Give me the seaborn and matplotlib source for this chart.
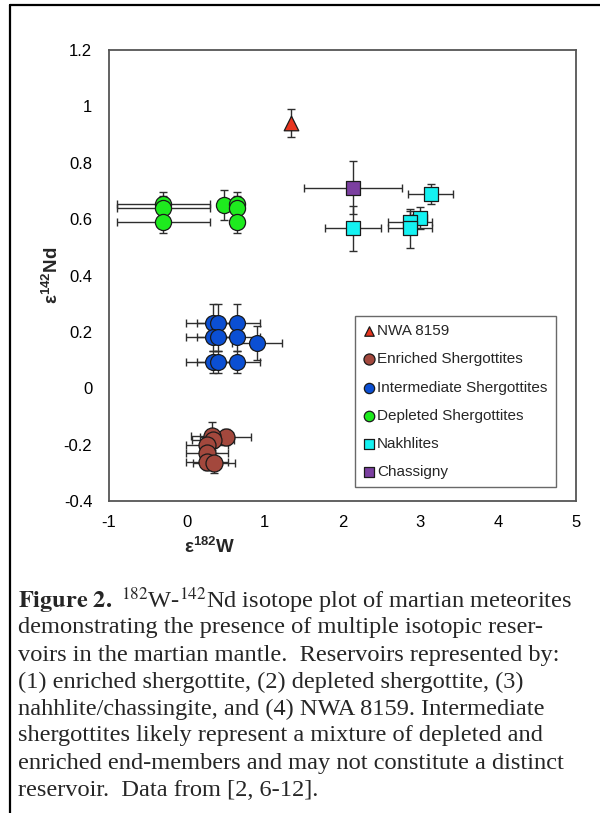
import matplotlib
matplotlib.use("Agg")
import matplotlib.pyplot as plt
import seaborn as sns
import pandas as pd
from matplotlib.lines import Line2D

# ---------------- data ----------------
groups = ["NWA 8159", "Enriched Shergottites", "Intermediate Shergottites",
          "Depleted Shergottites", "Nakhlites", "Chassigny"]

nwa_x = [1.34]
nwa_y = [0.94]
nwa_xerr = [0.0]
nwa_yerr = [0.05]

enr_x = [0.50, 0.32, 0.34, 0.26, 0.26, 0.26, 0.35]
enr_y = [-0.173, -0.170, -0.182, -0.200, -0.230, -0.261, -0.265]
enr_xerr = [0.33, 0.27, 0.27, 0.27, 0.27, 0.27, 0.27]
enr_yerr = [0.03, 0.05, 0.03, 0.03, 0.03, 0.03, 0.035]

int_x = [0.34, 0.405, 0.649, 0.34, 0.405, 0.649, 0.34, 0.405, 0.649, 0.906]
int_y = [0.233, 0.233, 0.233, 0.182, 0.182, 0.182, 0.093, 0.093, 0.093, 0.161]
int_xerr = [0.35, 0.28, 0.29, 0.35, 0.28, 0.29, 0.35, 0.28, 0.29, 0.32]
int_yerr = [0.065, 0.065, 0.065, 0.05, 0.05, 0.05, 0.04, 0.04, 0.04, 0.06]

dep_x = [-0.30, -0.30, -0.30, 0.48, 0.65, 0.65, 0.65]
dep_y = [0.655, 0.641, 0.590, 0.649, 0.655, 0.641, 0.590]
dep_xerr = [0.60, 0.60, 0.60, 0.08, 0.08, 0.08, 0.08]
dep_yerr = [0.04, 0.04, 0.04, 0.053, 0.04, 0.04, 0.04]

nak_x = [2.14, 3.135, 2.99, 2.87, 2.87]
nak_y = [0.567, 0.690, 0.604, 0.590, 0.567]
nak_xerr = [0.36, 0.29, 0.10, 0.28, 0.28]
nak_yerr = [0.08, 0.035, 0.04, 0.04, 0.07]

cha_x = [2.14]
cha_y = [0.712]
cha_xerr = [0.63]
cha_yerr = [0.094]

x_ticks = [-1, 0, 1, 2, 3, 4, 5]
y_ticks = [-0.4, -0.2, 0, 0.2, 0.4, 0.6, 0.8, 1, 1.2]

caption_lines = [
    r"$\mathbf{Figure\ 2.}$ $^{182}$W-$^{142}$Nd isotope plot of martian meteorites",
    "demonstrating the presence of multiple isotopic reser-",
    "voirs in the martian mantle.  Reservoirs represented by:",
    "(1) enriched shergottite, (2) depleted shergottite, (3)",
    "nahhlite/chassingite, and (4) NWA 8159. Intermediate",
    "shergottites likely represent a mixture of depleted and",
    "enriched end-members and may not constitute a distinct",
    "reservoir.  Data from [2, 6-12].",
]

# ---------------- style ----------------
sns.set_style("white")
plt.rcParams["font.family"] = ["Liberation Sans", "DejaVu Sans"]
plt.rcParams["axes.unicode_minus"] = False
plt.rcParams["mathtext.fontset"] = "custom"
plt.rcParams["mathtext.rm"] = "Liberation Sans"
plt.rcParams["mathtext.bf"] = "Liberation Sans:bold"

colors = {
    "NWA 8159": "#E8341E",
    "Enriched Shergottites": "#A3483D",
    "Intermediate Shergottites": "#0B4FD3",
    "Depleted Shergottites": "#1EEB1E",
    "Nakhlites": "#14F2F2",
    "Chassigny": "#7B3FA0",
}
markers = {
    "NWA 8159": "^",
    "Enriched Shergottites": "o",
    "Intermediate Shergottites": "o",
    "Depleted Shergottites": "o",
    "Nakhlites": "s",
    "Chassigny": "s",
}
sizes = {
    "NWA 8159": 110,
    "Enriched Shergottites": 150,
    "Intermediate Shergottites": 130,
    "Depleted Shergottites": 135,
    "Nakhlites": 110,
    "Chassigny": 115,
}

W, H = 600, 813
fig = plt.figure(figsize=(W / 100, H / 100), dpi=100)
L, R, T, B = 109, 576, 50, 501
ax = fig.add_axes([L / W, 1 - B / H, (R - L) / W, (B - T) / H])

data = {
    "NWA 8159": (nwa_x, nwa_y, nwa_xerr, nwa_yerr),
    "Enriched Shergottites": (enr_x, enr_y, enr_xerr, enr_yerr),
    "Intermediate Shergottites": (int_x, int_y, int_xerr, int_yerr),
    "Depleted Shergottites": (dep_x, dep_y, dep_xerr, dep_yerr),
    "Nakhlites": (nak_x, nak_y, nak_xerr, nak_yerr),
    "Chassigny": (cha_x, cha_y, cha_xerr, cha_yerr),
}

for i, g in enumerate(groups):
    x, y, xe, ye = data[g]
    ax.errorbar(x, y, xerr=xe, yerr=ye, fmt="none", ecolor="#2e2e2e",
                elinewidth=1.0, capsize=3.2, capthick=1.0, zorder=1)

for i, g in enumerate(groups):
    x, y, xe, ye = data[g]
    df = pd.DataFrame({"x": x, "y": y})
    sns.scatterplot(data=df, x="x", y="y", ax=ax, marker=markers[g],
                    s=sizes[g], color=colors[g], edgecolor="#1a1a1a",
                    linewidth=0.9, label=g, zorder=3)

ax.set_xlim(-1, 5)
ax.set_ylim(-0.4, 1.2)
ax.set_xticks(x_ticks)
ax.set_yticks(y_ticks)
ax.set_xticklabels([f"{v:g}" for v in x_ticks])
ax.set_yticklabels([f"{v:g}" for v in y_ticks])
ax.tick_params(axis="both", direction="in", length=5, width=1.1,
               color="#555555", labelsize=12, labelcolor="black")
ax.tick_params(axis="y", pad=12)
ax.tick_params(axis="x", pad=10)
ax.set_xlabel("")
ax.set_ylabel("")
for s in ax.spines.values():
    s.set_color("#555555")
    s.set_linewidth(1.3)

leg = ax.legend(loc="upper left", bbox_to_anchor=((355 - L) / (R - L), (B - 316) / (B - T)),
                borderaxespad=0, frameon=True, fancybox=False, shadow=False,
                fontsize=11, markerscale=0.65, handlelength=0.7, handletextpad=0.2,
                labelspacing=0.92, borderpad=0.55, edgecolor="#444444")
leg.get_frame().set_linewidth(1.0)
leg.get_frame().set_facecolor("white")

# axis labels
fig.text(52 / W, 1 - 275 / H, r"ε$^{\mathbf{142}}$Nd", rotation=90, ha="center", va="center",
         fontsize=13.5, fontweight="bold", math_fontfamily="custom")
fig.text(210 / W, 1 - 547 / H, r"ε$^{\mathbf{182}}$W", ha="center", va="center",
         fontsize=13.5, fontweight="bold", math_fontfamily="custom")

# caption
for k, line in enumerate(caption_lines):
    fig.text(18 / W, 1 - (601 + 27 * k) / H, line, ha="left", va="center",
             fontsize=17.6, family=["Liberation Serif", "DejaVu Serif"],
             math_fontfamily="stix")

# outer frame
fig.add_artist(Line2D([10 / W, 10 / W], [0, 1 - 5 / H], transform=fig.transFigure,
                      color="black", linewidth=1.6))
fig.add_artist(Line2D([10 / W, 1], [1 - 5 / H, 1 - 5 / H], transform=fig.transFigure,
                      color="black", linewidth=1.6))

fig.savefig("out.png", dpi=100)
